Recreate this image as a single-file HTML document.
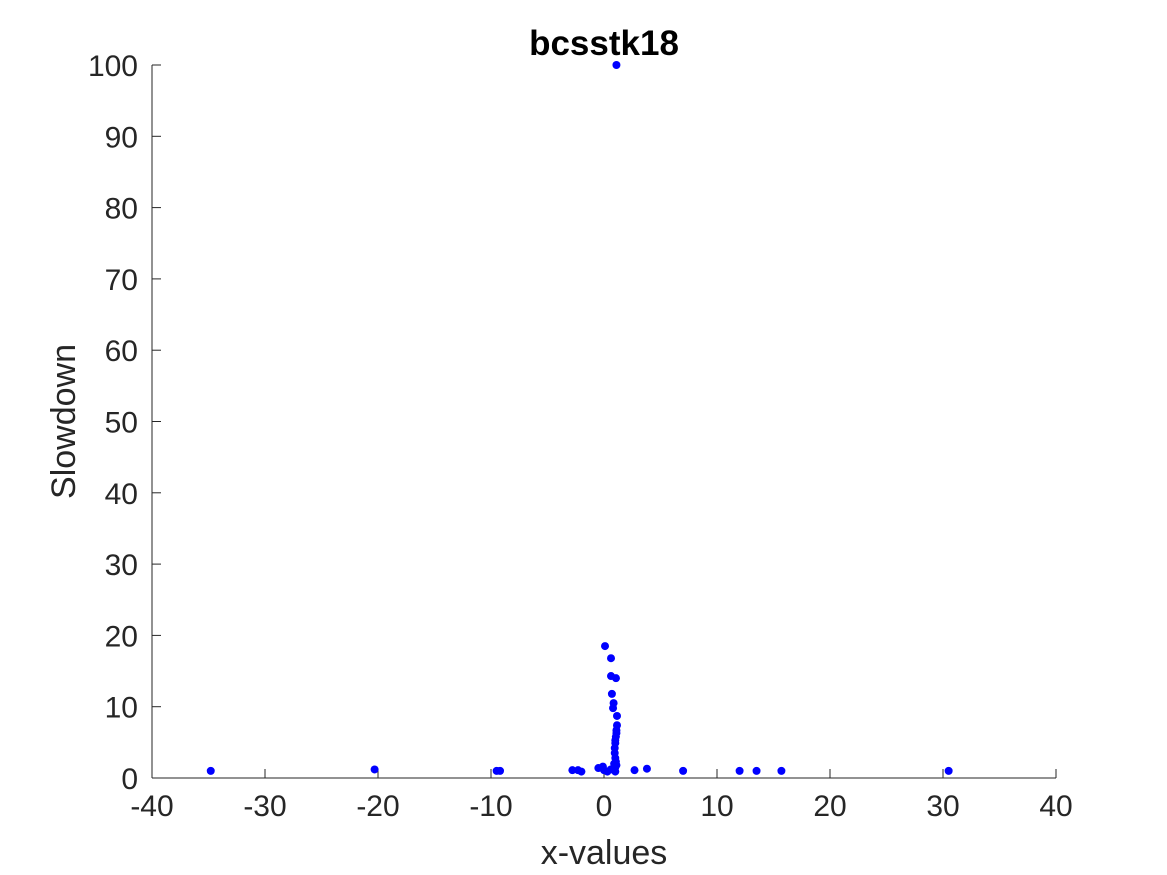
<!DOCTYPE html>
<html><head><meta charset="utf-8"><style>
html,body{margin:0;padding:0;background:#fff;}
svg{display:block;font-family:"Liberation Sans",Arial,sans-serif;}
</style></head><body>
<svg id="chart" width="1167" height="875" viewBox="0 0 1167 875"></svg>
<script>
const xTicks=[-40,-30,-20,-10,0,10,20,30,40];
const yTicks=[0,10,20,30,40,50,60,70,80,90,100];
const xVals=[1.1,-34.8,-20.3,-9.5,-9.2,-2.8,-2.3,-2.0,-0.5,-0.1,0.0,0.3,0.6,1.0,1.0,2.7,3.8,7.0,12.0,13.5,15.7,30.5,
0.09,0.62,0.62,1.06,0.7,0.85,0.8,1.15,1.15,1.1,1.1,1.05,1.0,1.0,0.95,0.95,1.0,1.05,1.1,0.9];
const yVals=[100,1.0,1.2,1.0,1.0,1.1,1.1,0.9,1.4,1.6,1.1,0.9,1.2,0.9,1.5,1.1,1.3,1.0,1.0,1.0,1.0,1.0,
18.5,16.8,14.3,14.0,11.8,10.5,9.8,8.7,7.4,6.7,6.3,5.8,5.3,4.9,4.2,3.5,2.8,2.3,1.8,2.0];
const NS="http://www.w3.org/2000/svg";
const svg=document.getElementById('chart');
const L=152,R=1056,T=65,B=778;
const sx=v=>L+(v+40)/80*(R-L);
const sy=v=>B-v/100*(B-T);
function mk(tag,attrs,parent){const e=document.createElementNS(NS,tag);for(const k in attrs)e.setAttribute(k,attrs[k]);(parent||svg).appendChild(e);return e;}
const axes=mk('g',{});


const xa=mk('line',{x1:L,y1:B,x2:R,y2:B,stroke:'#262626','stroke-width':1},axes);


const ya=mk('line',{x1:L,y1:B,x2:L,y2:T,stroke:'#262626','stroke-width':1},axes);


xTicks.forEach(t=>{
 const x=sx(t);
 const tk=mk('line',{x1:x,y1:B,x2:x,y2:B-9,stroke:'#262626'},axes);
 
 
 const lb=mk('text',{x:x,y:B+38,'text-anchor':'middle','font-size':30,fill:'#262626'},axes);
 lb.textContent=t;
 
 
});
yTicks.forEach(t=>{
 const y=sy(t);
 const tk=mk('line',{x1:L,y1:y,x2:L+9,y2:y,stroke:'#262626'},axes);
 
 
 const lb=mk('text',{x:L-14,y:y+11,'text-anchor':'end','font-size':30,fill:'#262626'},axes);
 lb.textContent=t;
 
 
});
const xt=mk('text',{x:(L+R)/2,y:864,'text-anchor':'middle','font-size':34,fill:'#262626'});
xt.textContent='x-values';


const yt=mk('text',{x:0,y:0,'text-anchor':'middle','font-size':34,fill:'#262626',transform:`translate(75,${(T+B)/2}) rotate(-90)`});
yt.textContent='Slowdown';


const ti=mk('text',{x:(L+R)/2,y:55,'text-anchor':'middle','font-size':35,'font-weight':'bold',fill:'#000'});
ti.textContent='bcsstk18';


const pts=mk('g',{});


xVals.forEach((v,i)=>{
 const c=mk('circle',{cx:sx(v),cy:sy(yVals[i]),r:4,fill:'#0000ff'},pts);
 
 
});
</script>
</body></html>
